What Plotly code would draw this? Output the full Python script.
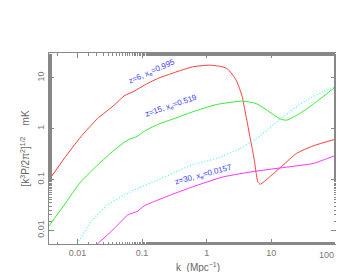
import math
import plotly.graph_objects as go

# z=6 (red)
k_red = [0.00363, 0.00622, 0.01125, 0.0204, 0.037, 0.0528, 0.0755, 0.108, 0.173, 0.314, 0.603,
         1.10, 1.78, 2.12, 2.54, 2.86, 3.22, 3.55, 3.85, 4.18, 4.60, 5.06, 5.50, 5.83, 6.17, 6.73,
         9.38, 15.1, 24.3, 44.0, 100.0]
p_red = [0.0968, 0.258, 0.690, 1.58, 2.90, 4.43, 5.47, 7.18, 9.68, 12.7, 16.5,
         17.8, 16.5, 14.8, 11.3, 9.0, 6.17, 4.23, 2.49, 1.47, 0.745, 0.405, 0.222, 0.131, 0.0897, 0.0807,
         0.112, 0.191, 0.324, 0.458, 0.625]

# z=15 (green)
k_green = [0.00363, 0.00622, 0.01125, 0.0204, 0.037, 0.0594, 0.0849, 0.108, 0.173, 0.314, 0.603,
           1.40, 3.62, 5.83, 9.38, 13.4, 17.0, 27.4, 49.5, 100.0]
p_green = [0.0122, 0.0312, 0.0897, 0.191, 0.378, 0.594, 0.711, 0.893, 1.205, 1.58, 2.14,
           2.98, 3.48, 3.12, 2.14, 1.58, 1.47, 1.98, 3.37, 6.75]

# dotted (cyan)
k_cyan = [0.0094, 0.0161, 0.0291, 0.0528, 0.0849, 0.173, 0.314, 0.603, 1.40, 3.22, 5.83,
          10.5, 19.1, 34.7, 62.7, 100.0]
p_cyan = [0.0048, 0.0146, 0.0312, 0.0491, 0.0664, 0.0968, 0.137, 0.196, 0.258, 0.405, 0.638,
          1.17, 2.14, 3.64, 5.30, 6.75]

# z=30 (magenta)
k_mag = [0.0185, 0.037, 0.0594, 0.0849, 0.108, 0.173, 0.314, 0.603, 1.78, 5.83, 19.1, 44.0, 62.7, 100.0]
p_mag = [0.0048, 0.0108, 0.0198, 0.0238, 0.0302, 0.0391, 0.0527, 0.0714, 0.112, 0.146, 0.178, 0.206, 0.24, 0.301]

x_ticks = [0.01, 0.1, 1, 10, 100]
x_ticktext = ["0.01", "0.1", "1", "10", "100"]
y_ticks = [0.01, 0.1, 1, 10]
y_ticktext = ["0.01", "0.1", "1", "10"]

labels = ["z=6, x<sub>e</sub>=0.995", "z=15, x<sub>e</sub>=0.519", "z=30, x<sub>e</sub>=0.0157"]
label_k = [0.14, 0.285, 0.89]
label_p = [13.0, 2.8, 0.125]
label_angle = [-24, -19, -15]

FONT = "Liberation Sans, Arial, sans-serif"

fig = go.Figure()
fig.add_trace(go.Scatter(x=k_red, y=p_red, mode="lines",
                         line=dict(color="#ff3b3b", width=1, shape="spline", smoothing=0.5)))
fig.add_trace(go.Scatter(x=k_green, y=p_green, mode="lines",
                         line=dict(color="#33ee33", width=1, shape="spline", smoothing=0.6)))
fig.add_trace(go.Scatter(x=k_cyan, y=p_cyan, mode="lines",
                         line=dict(color="#55f0f0", width=1.2, dash="1px,2px", shape="spline", smoothing=0.6)))
fig.add_trace(go.Scatter(x=k_mag, y=p_mag, mode="lines",
                         line=dict(color="#ff33ff", width=1, shape="spline", smoothing=0.6)))

for t, kx, py, ang in zip(labels, label_k, label_p, label_angle):
    fig.add_annotation(x=math.log10(kx), y=math.log10(py), text=t,
                       showarrow=False, textangle=ang, xanchor="center", yanchor="middle",
                       font=dict(family=FONT, size=8, color="#3c3cff"))

axis_common = dict(
    type="log", showgrid=False, zeroline=False, showline=True, linecolor="#888888", linewidth=1,
    mirror="ticks", ticks="inside", ticklen=5, tickcolor="#888888", tickwidth=1,
    minor=dict(ticks="inside", ticklen=2.5, tickcolor="#888888", showgrid=False),
    tickfont=dict(family=FONT, size=9, color="#777777"),
)

# the last x tick label sits at the page edge, so it is drawn as an annotation (right-aligned)
x_ticktext_axis = x_ticktext[:-1] + [""]
fig.update_xaxes(**axis_common, range=[-2.44, 2.0], tickvals=x_ticks, ticktext=x_ticktext_axis)
fig.update_yaxes(**axis_common, range=[-2.27, 1.49], tickvals=y_ticks, ticktext=y_ticktext, tickangle=-90)

fig.add_annotation(xref="paper", yref="paper", x=1.0, y=-0.058, showarrow=False,
                   xanchor="right", yanchor="middle", text=x_ticktext[-1],
                   font=dict(family=FONT, size=9, color="#777777"))

fig.add_annotation(xref="paper", yref="paper", x=-0.087, y=0.5, showarrow=False, textangle=-90,
                   xanchor="center", yanchor="middle",
                   text="[k<sup>3</sup>P/2π<sup>2</sup>]<sup>1/2</sup>    mK",
                   font=dict(family=FONT, size=10, color="#666666"))
fig.add_annotation(xref="paper", yref="paper", x=0.52, y=-0.118, showarrow=False,
                   xanchor="center", yanchor="middle",
                   text="k  (Mpc<sup>−1</sup>)",
                   font=dict(family=FONT, size=10, color="#666666"))

# page body has an 8px margin: keep the page within the 344x280 window
fig.update_layout(
    width=328, height=264, showlegend=False,
    margin=dict(l=41, r=0, t=45, b=28),
    paper_bgcolor="white", plot_bgcolor="white",
)

fig.write_html("out.html")
